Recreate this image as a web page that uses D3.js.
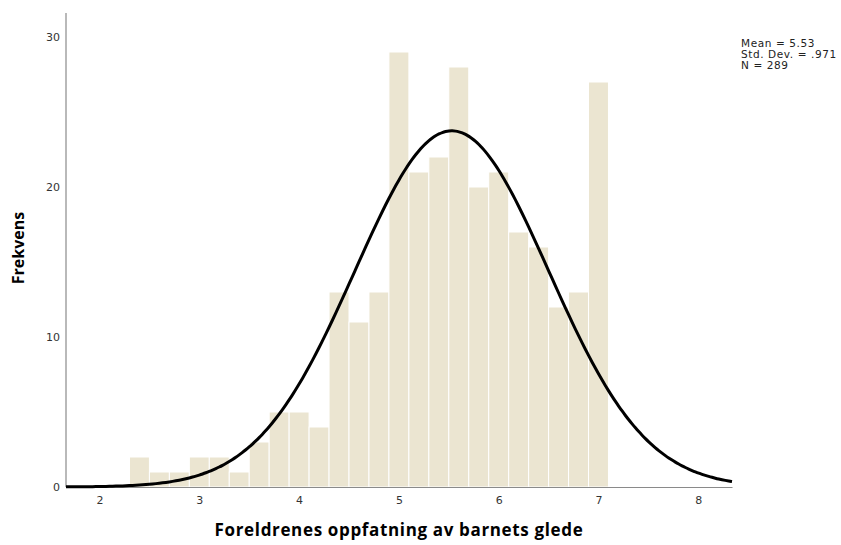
<!DOCTYPE html>
<html>
<head>
<meta charset="utf-8">
<script src="https://cdn.jsdelivr.net/npm/d3@7"></script>
<style>
  body { margin: 0; background: #fff; }
</style>
</head>
<body>
<script>
// histogram bins (lower edges), width 0.2
binStarts = [2.3, 2.5, 2.7, 2.9, 3.1, 3.3, 3.5, 3.7, 3.9, 4.1, 4.3, 4.5,
             4.7, 4.9, 5.1, 5.3, 5.5, 5.7, 5.9, 6.1, 6.3, 6.5, 6.7, 6.9];
binCounts = [2, 1, 1, 2, 2, 1, 3, 5, 5, 4, 13, 11,
             13, 29, 21, 22, 28, 20, 21, 17, 16, 12, 13, 27];
binWidth = 0.2;
xTicks = [2, 3, 4, 5, 6, 7, 8];
yTicks = [0, 10, 20, 30];
stats = {mean: 5.53, sd: 0.971, n: 289};
statLines = ["Mean = 5.53", "Std. Dev. = .971", "N = 289"];

width = 841;
height = 545;
smallFont = "'DejaVu Sans', sans-serif";
titleFont = "'Open Sans', 'DejaVu Sans', sans-serif";

svg = d3.select("body").append("svg")
  .attr("width", width)
  .attr("height", height);

x = d3.scaleLinear().domain([1.664, 8.338]).range([66, 732]);
y = d3.scaleLinear().domain([0, 30]).range([487, 37]);

// bars
svg.append("g").selectAll("rect")
  .data(binStarts)
  .join("rect")
  .attr("x", d => x(d))
  .attr("width", d => x(d + binWidth) - x(d))
  .attr("y", (d, i) => y(binCounts[i]))
  .attr("height", (d, i) => y(0) - y(binCounts[i]))
  .attr("fill", "#ebe5d1")
  .attr("stroke", "#fff")
  .attr("stroke-width", 1);

// axes
xAxis = svg.append("g")
  .attr("transform", "translate(0," + y(0) + ")")
  .call(d3.axisBottom(x).tickValues(xTicks).tickFormat(d3.format("d"))
    .tickSize(0).tickPadding(9));
yAxis = svg.append("g")
  .attr("transform", "translate(" + x.range()[0] + ",0)")
  .call(d3.axisLeft(y).tickValues(yTicks).tickFormat(d3.format("d"))
    .tickSize(0).tickPadding(6));
yAxis.select(".domain").attr("d", "M0," + 13 + "V" + y(0));
[xAxis, yAxis].forEach(function(a) {
  a.select(".domain").attr("stroke", "#8a8a8a").attr("stroke-width", 1.2);
  a.selectAll("text")
    .style("font-family", smallFont)
    .style("font-size", "11px")
    .attr("fill", "#333");
});

// normal curve
pts = d3.range(0, 201).map(function(i) {
  var v = x.domain()[0] + (x.domain()[1] - x.domain()[0]) * i / 200;
  var z = (v - stats.mean) / stats.sd;
  var f = stats.n * binWidth / (stats.sd * Math.sqrt(2 * Math.PI)) * Math.exp(-0.5 * z * z);
  return [v, f];
});
svg.append("path")
  .datum(pts)
  .attr("fill", "none")
  .attr("stroke", "#000")
  .attr("stroke-width", 3)
  .attr("d", d3.line().x(d => x(d[0])).y(d => y(d[1])).curve(d3.curveBasis));

// axis titles
svg.append("text")
  .attr("x", 399)
  .attr("y", 536)
  .attr("text-anchor", "middle")
  .style("font-family", titleFont)
  .style("font-size", "17px")
  .style("letter-spacing", "0.65px")
  .style("font-weight", "bold")
  .attr("fill", "#000")
  .text("Foreldrenes oppfatning av barnets glede");
svg.append("text")
  .attr("transform", "translate(24,248) rotate(-90)")
  .attr("text-anchor", "middle")
  .style("font-family", titleFont)
  .style("font-size", "16px")
  .style("font-weight", "bold")
  .attr("fill", "#000")
  .text("Frekvens");

// stats box
svg.append("g").selectAll("text")
  .data(statLines)
  .join("text")
  .attr("x", 741)
  .attr("y", (d, i) => 46.5 + i * 11)
  .style("font-family", smallFont)
  .style("font-size", "10.5px")
  .style("letter-spacing", "0.6px")
  .attr("fill", "#222")
  .text(d => d);
</script>
</body>
</html>
